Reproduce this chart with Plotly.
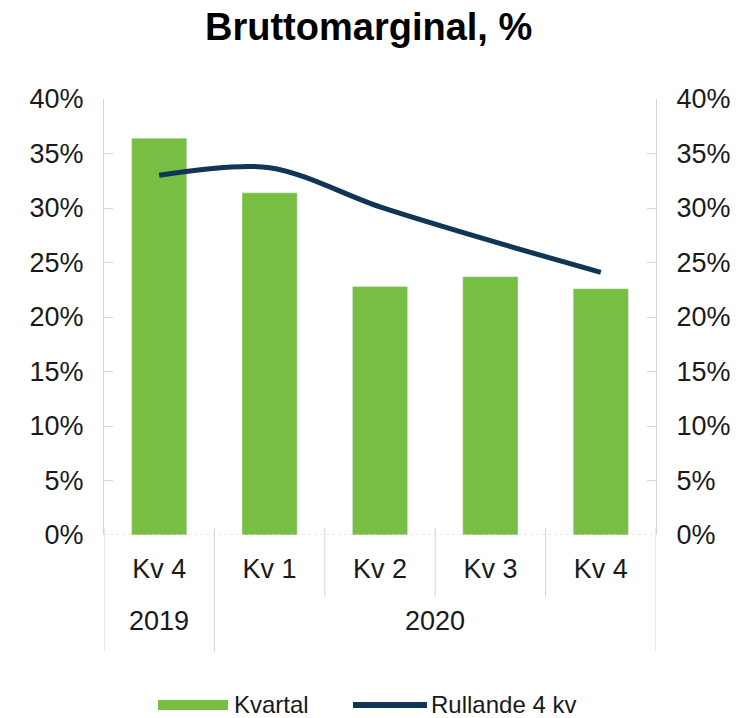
import plotly.graph_objects as go

# ---- data ----
quarters = ["Kv 4", "Kv 1", "Kv 2", "Kv 3", "Kv 4"]
years = ["2019", "2020", "2020", "2020", "2020"]
kvartal = [36.4, 31.4, 22.8, 23.7, 22.6]
rullande = [33.0, 33.7, 30.1, 27.0, 24.1]
series_names = ["Kvartal", "Rullande 4 kv"]
title_text = "Bruttomarginal, %"
y_ticks = [0, 5, 10, 15, 20, 25, 30, 35, 40]

GREEN = "#78BE43"
NAVY = "#0F3557"
GRID = "#D4D4D4"
FONT = "Liberation Sans, Arial, sans-serif"
TXT = "#1a1a1a"

W, H = 751, 718
L, R, T, B = 104, 656, 99, 535   # plot area in pixels


def px(x):
    return (x - L) / (R - L)


def py(y):
    return (B - y) / (B - T)


n = len(quarters)
xs = list(range(n))

fig = go.Figure()
fig.add_trace(go.Bar(x=xs, y=kvartal, name=series_names[0], marker_color=GREEN,
                     width=0.5, showlegend=False))
fig.add_trace(go.Scatter(x=xs, y=rullande, name=series_names[1], mode="lines",
                         line=dict(color=NAVY, width=5, shape="spline", smoothing=0.9),
                         showlegend=False))
# invisible trace for right axis
fig.add_trace(go.Scatter(x=[xs[0]], y=[None], yaxis="y2", showlegend=False, hoverinfo="skip"))

shapes = []
# category separators
for i in range(n + 1):
    xb = i - 0.5
    outer = (i == 0 or i == n or years[i - 1] != years[i])
    shapes.append(dict(type="line", xref="x", yref="paper", x0=xb, x1=xb,
                       y0=py(528), y1=py(652 if outer else 597),
                       line=dict(color=GRID, width=1)))
# baseline
shapes.append(dict(type="line", xref="paper", yref="y", x0=0, x1=1, y0=0, y1=0,
                   line=dict(color=GRID, width=1, dash="dot")))
# legend symbols
shapes.append(dict(type="line", xref="paper", yref="paper", x0=px(158), x1=px(228),
                   y0=py(705), y1=py(705), line=dict(color=GREEN, width=10)))
shapes.append(dict(type="line", xref="paper", yref="paper", x0=px(353), x1=px(427),
                   y0=py(705), y1=py(705), line=dict(color=NAVY, width=6)))

annotations = []
# year labels
groups = []
for i, yv in enumerate(years):
    if groups and groups[-1][0] == yv:
        groups[-1][2] = i
    else:
        groups.append([yv, i, i])
for yv, a, b in groups:
    annotations.append(dict(text=yv, xref="x", yref="paper", x=(a + b) / 2, y=py(621),
                            showarrow=False, xanchor="center", yanchor="middle",
                            font=dict(family=FONT, size=27, color=TXT)))
# legend texts
annotations.append(dict(text=series_names[0], xref="paper", yref="paper", x=px(232), y=py(704),
                        showarrow=False, xanchor="left", yanchor="middle",
                        font=dict(family=FONT, size=24, color=TXT)))
annotations.append(dict(text=series_names[1], xref="paper", yref="paper", x=px(429), y=py(704),
                        showarrow=False, xanchor="left", yanchor="middle",
                        font=dict(family=FONT, size=24, color=TXT)))
# title
annotations.append(dict(text=f"<b>{title_text}</b>", xref="paper", yref="paper", x=px(368), y=py(27),
                        showarrow=False, xanchor="center", yanchor="middle",
                        font=dict(family=FONT, size=38, color="#000")))

yax = dict(range=[0, 40], tickvals=y_ticks, ticktext=[f"{v}%" for v in y_ticks],
           showgrid=False, zeroline=False, showline=True, linecolor=GRID, linewidth=1,
           ticks="inside", ticklen=9, tickcolor=GRID, ticklabelstandoff=14,
           tickfont=dict(family=FONT, size=27, color=TXT), fixedrange=True)

fig.update_layout(
    width=W, height=H,
    margin=dict(l=L, r=W - R, t=T, b=H - B),
    paper_bgcolor="white", plot_bgcolor="white",
    xaxis=dict(range=[-0.5, n - 0.5], tickvals=xs, ticktext=quarters, showgrid=False,
               zeroline=False, showline=False, ticks="", ticklabelstandoff=15,
               tickfont=dict(family=FONT, size=27, color=TXT)),
    yaxis=yax,
    yaxis2=dict(yax, overlaying="y", side="right", matches="y"),
    shapes=shapes,
    annotations=annotations,
    showlegend=False,
)

fig.write_html("out.html", config={"displayModeBar": False},
               post_script="document.body.style.margin='0';document.body.style.padding='0';")
